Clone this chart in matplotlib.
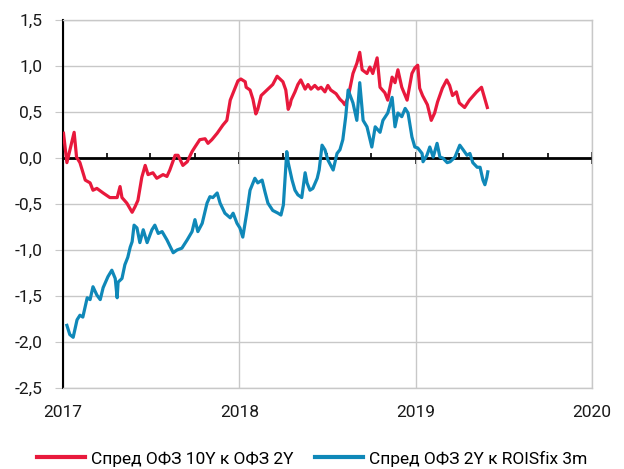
import matplotlib
matplotlib.use("Agg")
import matplotlib.pyplot as plt
import matplotlib.dates as mdates
import pandas as pd
from matplotlib.ticker import FuncFormatter

RED = "#E8193C"
BLUE = "#0F88B8"
GRID = "#C8C8C8"

# Спред ОФЗ 10Y к ОФЗ 2Y (п.п.)
ofz_dates = [
    "2017-01-02", "2017-01-09", "2017-01-24", "2017-01-29", "2017-02-05", "2017-02-16",
    "2017-02-26", "2017-03-04", "2017-03-12", "2017-03-25", "2017-04-08", "2017-04-23",
    "2017-04-29", "2017-05-03", "2017-05-13", "2017-05-24", "2017-05-30", "2017-06-05",
    "2017-06-13", "2017-06-20", "2017-06-26", "2017-07-06", "2017-07-14", "2017-07-27",
    "2017-08-04", "2017-08-10", "2017-08-21", "2017-08-27", "2017-09-06", "2017-09-15",
    "2017-09-25", "2017-10-01", "2017-10-11", "2017-10-22", "2017-10-28", "2017-11-05",
    "2017-11-16", "2017-11-28", "2017-12-06", "2017-12-13", "2017-12-29", "2018-01-04",
    "2018-01-13", "2018-01-15", "2018-01-23", "2018-01-29", "2018-02-04", "2018-02-08",
    "2018-02-15", "2018-02-23", "2018-03-05", "2018-03-11", "2018-03-20", "2018-03-26",
    "2018-04-01", "2018-04-07", "2018-04-12", "2018-04-16", "2018-04-18", "2018-04-26",
    "2018-05-02", "2018-05-08", "2018-05-17", "2018-05-23", "2018-05-29", "2018-06-06",
    "2018-06-13", "2018-06-19", "2018-06-27", "2018-07-03", "2018-07-09", "2018-07-20",
    "2018-07-28", "2018-08-03", "2018-08-07", "2018-08-14", "2018-08-24", "2018-09-01",
    "2018-09-07", "2018-09-12", "2018-09-22", "2018-09-28", "2018-10-04", "2018-10-13",
    "2018-10-19", "2018-10-29", "2018-11-04", "2018-11-13", "2018-11-19", "2018-11-25",
    "2018-12-03", "2018-12-14", "2018-12-24", "2018-12-30", "2019-01-05", "2019-01-09",
    "2019-01-15", "2019-01-25", "2019-02-02", "2019-02-09", "2019-02-15", "2019-02-25",
    "2019-03-06", "2019-03-12", "2019-03-18", "2019-03-26", "2019-04-01", "2019-04-12",
    "2019-04-22", "2019-05-07", "2019-05-17", "2019-05-23", "2019-05-29",
]
ofz_spread = [
    0.27, -0.05, 0.28, 0.01, -0.05, -0.24,
    -0.27, -0.35, -0.33, -0.38, -0.43, -0.43,
    -0.31, -0.43, -0.49, -0.59, -0.53, -0.46,
    -0.21, -0.08, -0.18, -0.16, -0.22, -0.18,
    -0.20, -0.13, 0.03, 0.03, -0.08, -0.04,
    0.07, 0.12, 0.20, 0.21, 0.16, 0.20,
    0.27, 0.36, 0.41, 0.63, 0.84, 0.86,
    0.83, 0.77, 0.74, 0.64, 0.48, 0.53,
    0.68, 0.72, 0.77, 0.80, 0.89, 0.86,
    0.83, 0.74, 0.53, 0.58, 0.63, 0.72,
    0.80, 0.85, 0.75, 0.80, 0.75, 0.79,
    0.75, 0.77, 0.72, 0.79, 0.74, 0.70,
    0.64, 0.61, 0.58, 0.66, 0.92, 1.03,
    1.15, 0.96, 0.92, 0.99, 0.92, 1.09,
    0.77, 0.71, 0.63, 0.88, 0.82, 0.96,
    0.77, 0.63, 0.92, 0.98, 1.01, 0.76,
    0.68, 0.58, 0.41, 0.49, 0.61, 0.76,
    0.85, 0.79, 0.68, 0.72, 0.60, 0.55,
    0.63, 0.72, 0.77, 0.66, 0.55,
]

# Спред ОФЗ 2Y к ROISfix 3m (п.п.)
rois_dates = [
    "2017-01-09", "2017-01-15", "2017-01-22", "2017-01-30", "2017-02-05", "2017-02-11",
    "2017-02-20", "2017-02-26", "2017-03-04", "2017-03-12", "2017-03-19", "2017-03-25",
    "2017-04-04", "2017-04-12", "2017-04-19", "2017-04-23", "2017-04-25", "2017-05-03",
    "2017-05-09", "2017-05-15", "2017-05-20", "2017-05-24", "2017-05-28", "2017-06-03",
    "2017-06-09", "2017-06-16", "2017-06-24", "2017-07-04", "2017-07-10", "2017-07-17",
    "2017-07-25", "2017-08-04", "2017-08-17", "2017-08-25", "2017-09-04", "2017-09-15",
    "2017-09-25", "2017-10-01", "2017-10-07", "2017-10-16", "2017-10-26", "2017-11-01",
    "2017-11-07", "2017-11-16", "2017-11-22", "2017-12-02", "2017-12-13", "2017-12-19",
    "2017-12-27", "2018-01-02", "2018-01-08", "2018-01-17", "2018-01-23", "2018-02-02",
    "2018-02-08", "2018-02-17", "2018-02-23", "2018-03-01", "2018-03-11", "2018-03-22",
    "2018-03-28", "2018-04-02", "2018-04-09", "2018-04-12", "2018-04-20", "2018-04-26",
    "2018-05-02", "2018-05-10", "2018-05-17", "2018-05-21", "2018-05-27", "2018-06-02",
    "2018-06-11", "2018-06-15", "2018-06-21", "2018-06-27", "2018-07-03", "2018-07-14",
    "2018-07-22", "2018-07-28", "2018-08-03", "2018-08-09", "2018-08-14", "2018-08-24",
    "2018-09-01", "2018-09-07", "2018-09-14", "2018-09-22", "2018-10-02", "2018-10-09",
    "2018-10-19", "2018-10-25", "2018-11-04", "2018-11-13", "2018-11-19", "2018-11-25",
    "2018-12-03", "2018-12-10", "2018-12-16", "2018-12-24", "2018-12-30", "2019-01-05",
    "2019-01-14", "2019-01-16", "2019-01-24", "2019-01-30", "2019-02-06", "2019-02-14",
    "2019-02-20", "2019-02-26", "2019-03-07", "2019-03-13", "2019-03-23", "2019-04-02",
    "2019-04-09", "2019-04-17", "2019-04-23", "2019-04-29", "2019-05-08", "2019-05-14",
    "2019-05-20", "2019-05-24", "2019-05-28", "2019-05-30",
]
rois_spread = [
    -1.82, -1.92, -1.95, -1.76, -1.71, -1.73,
    -1.52, -1.54, -1.40, -1.49, -1.54, -1.41,
    -1.29, -1.22, -1.31, -1.52, -1.35, -1.31,
    -1.16, -1.08, -0.97, -0.91, -0.73, -0.76,
    -0.92, -0.78, -0.92, -0.78, -0.73, -0.82,
    -0.80, -0.89, -1.03, -1.00, -0.98, -0.89,
    -0.80, -0.67, -0.80, -0.71, -0.49, -0.42,
    -0.43, -0.38, -0.49, -0.60, -0.65, -0.60,
    -0.71, -0.76, -0.86, -0.57, -0.35, -0.22,
    -0.27, -0.24, -0.37, -0.49, -0.57, -0.60,
    -0.62, -0.51, 0.07, -0.05, -0.24, -0.35,
    -0.40, -0.43, -0.16, -0.27, -0.35, -0.33,
    -0.22, -0.13, 0.14, 0.09, -0.02, -0.13,
    0.05, 0.09, 0.20, 0.45, 0.74, 0.60,
    0.41, 0.82, 0.41, 0.34, 0.12, 0.34,
    0.28, 0.41, 0.49, 0.66, 0.34, 0.49,
    0.45, 0.54, 0.49, 0.23, 0.12, 0.11,
    0.05, -0.04, 0.03, 0.12, 0.01, 0.16,
    0.01, 0.00, -0.05, -0.04, 0.01, 0.14,
    0.09, 0.03, 0.05, -0.05, -0.10, -0.10,
    -0.24, -0.29, -0.21, -0.15,
]

legend_labels = ["Спред ОФЗ 10Y к ОФЗ 2Y", "Спред ОФЗ 2Y к ROISfix 3m"]
y_min, y_max = -2.5, 1.5

plt.rcParams["font.family"] = ["Roboto", "DejaVu Sans"]
plt.rcParams["font.size"] = 12.5

fig = plt.figure(figsize=(6.24, 4.69), dpi=100)
ax = fig.add_axes([0.101, 0.173, 0.848, 0.784])

ax.plot(pd.to_datetime(ofz_dates), ofz_spread, color=RED, lw=2.3, zorder=3, label=legend_labels[0])
ax.plot(pd.to_datetime(rois_dates), rois_spread, color=BLUE, lw=2.3, zorder=3, label=legend_labels[1])

ax.set_xlim(pd.Timestamp("2017-01-01"), pd.Timestamp("2020-01-01"))
ax.set_ylim(y_min, y_max)
ax.set_yticks([-2.5, -2.0, -1.5, -1.0, -0.5, 0.0, 0.5, 1.0, 1.5])
ax.yaxis.set_major_formatter(FuncFormatter(lambda v, _: f"{v:.1f}".replace(".", ",")))
ax.xaxis.set_major_locator(mdates.YearLocator())
ax.xaxis.set_major_formatter(mdates.DateFormatter("%Y"))

ax.grid(True, color=GRID, lw=1.0, zorder=0)
ax.set_axisbelow(True)
for side in ["top", "right", "bottom"]:
    ax.spines[side].set_color(GRID)
    ax.spines[side].set_linewidth(1.0)
ax.spines["left"].set_color("black")
ax.spines["left"].set_linewidth(1.5)
ax.tick_params(axis="y", length=6, color=GRID, pad=9, labelcolor="#1a1a1a")
ax.tick_params(axis="x", length=0, pad=12, labelcolor="#1a1a1a")

# zero line with quarterly ticks
ax.axhline(0, color="black", lw=2.0, zorder=2)
zero_pos = (0 - y_min) / (y_max - y_min)
zax = ax.secondary_xaxis(zero_pos)
for sp in zax.spines.values():
    sp.set_visible(False)
zax.xaxis.set_ticks_position("top")
zax.xaxis.set_major_locator(mdates.YearLocator())
zax.xaxis.set_minor_locator(mdates.MonthLocator(bymonth=[4, 7, 10]))
zax.tick_params(which="major", direction="inout", length=8.5, width=1.2, color="black",
                labeltop=False, labelbottom=False)
zax.tick_params(which="minor", direction="out", length=3.6, width=1.2, color="black",
                labeltop=False, labelbottom=False)

fig.legend(loc="lower center", bbox_to_anchor=(0.5, -0.028), ncol=2, frameon=False,
           handlelength=2.8, handletextpad=0.35, columnspacing=1.2, fontsize=12.5)
for line in fig.legends[0].get_lines():
    line.set_linewidth(3)

fig.savefig("out.png", dpi=100)
